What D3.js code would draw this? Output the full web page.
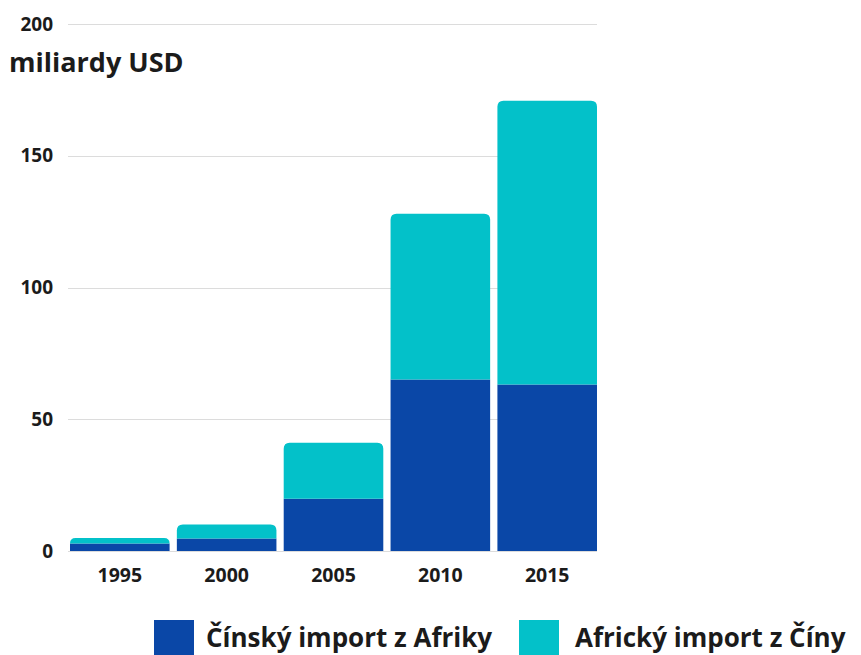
<!DOCTYPE html>
<html>
<head>
<meta charset="utf-8">
<script src="https://cdn.jsdelivr.net/npm/d3@7"></script>
<style>
  html, body { margin: 0; padding: 0; background: #fff; }
  svg { display: block; font-family: "Open Sans", "Noto Sans", sans-serif; }
</style>
</head>
<body>
<svg id="chart" width="861" height="655"></svg>
<script>
// Years on the x axis
const years = ["1995", "2000", "2005", "2010", "2015"];
// Chinese imports from Africa (billion USD)
const chinaFromAfrica = [2.8, 4.7, 19.8, 65.1, 63.2];
// African imports from China (billion USD), stacked on top
const africaFromChina = [2.1, 5.4, 21.3, 62.9, 107.7];
const yTicks = [0, 50, 100, 150, 200];
const seriesNames = ["Čínský import z Afriky", "Africký import z Číny"];
const seriesColors = ["#0a47a7", "#03c1c9"];
const unitLabel = "miliardy USD";

const svg = d3.select("#chart");
const textColor = "#1b1b1b";

const x = d3.scaleBand().domain(years).range([70, 597]).paddingInner(0.068).paddingOuter(0);
const y = d3.scaleLinear().domain([0, 200]).range([551, 24]);

// Horizontal gridlines
svg.append("g").selectAll("line").data(yTicks).join("line")
  .attr("x1", 68).attr("x2", 597)
  .attr("y1", d => Math.round(y(d)) + 0.5).attr("y2", d => Math.round(y(d)) + 0.5)
  .attr("stroke", "#dcdcdc").attr("stroke-width", 1);

// Y axis labels
const yAxis = d3.axisLeft(y).tickValues(yTicks).tickSize(0).tickPadding(0);
const gy = svg.append("g").attr("transform", "translate(53,0)").call(yAxis);
gy.select(".domain").remove();
gy.selectAll("text")
  .attr("font-size", 19).attr("font-weight", 700).attr("fill", textColor)
  .attr("font-family", "'Open Sans', sans-serif");

// Unit label
svg.append("text").attr("x", 9).attr("y", 72)
  .attr("font-size", 27).attr("font-weight", 700).attr("fill", textColor)
  .text(unitLabel);

// Stacked data
const rows = years.map((yr, i) => ({ year: yr, a: chinaFromAfrica[i], b: africaFromChina[i] }));
const stacked = d3.stack().keys(["a", "b"])(rows);

function barPath(x0, w, yTop, yBot, r) {
  if (r <= 0) return `M${x0},${yBot}V${yTop}H${x0 + w}V${yBot}Z`;
  r = Math.min(r, (yBot - yTop), w / 2);
  return `M${x0},${yBot}V${yTop + r}Q${x0},${yTop} ${x0 + r},${yTop}` +
         `H${x0 + w - r}Q${x0 + w},${yTop} ${x0 + w},${yTop + r}V${yBot}Z`;
}

stacked.forEach((layer, li) => {
  svg.append("g").selectAll("path").data(layer).join("path")
    .attr("fill", seriesColors[li])
    .attr("d", d => barPath(x(d.data.year), x.bandwidth(), y(d[1]), y(d[0]), li === stacked.length - 1 ? 6 : 0));
});

// X axis labels
const xAxis = d3.axisBottom(x).tickSize(0).tickPadding(0);
const gx = svg.append("g").attr("transform", "translate(0,582)").call(xAxis);
gx.select(".domain").remove();
gx.selectAll("text")
  .attr("dy", 0).attr("y", 0)
  .attr("font-size", 19.5).attr("font-weight", 700).attr("fill", textColor)
  .attr("font-family", "'Open Sans', sans-serif");

// Legend
const legendItems = [
  { name: seriesNames[0], color: seriesColors[0], sx: 154, tx: 206 },
  { name: seriesNames[1], color: seriesColors[1], sx: 519, tx: 575 }
];
const lg = svg.append("g");
legendItems.forEach(it => {
  lg.append("rect").attr("x", it.sx).attr("y", 620).attr("width", 40).attr("height", 40).attr("fill", it.color);
  lg.append("text").attr("x", it.tx).attr("y", 647)
    .attr("font-size", 26).attr("font-weight", 700).attr("fill", textColor)
    .text(it.name);
});
</script>
</body>
</html>
